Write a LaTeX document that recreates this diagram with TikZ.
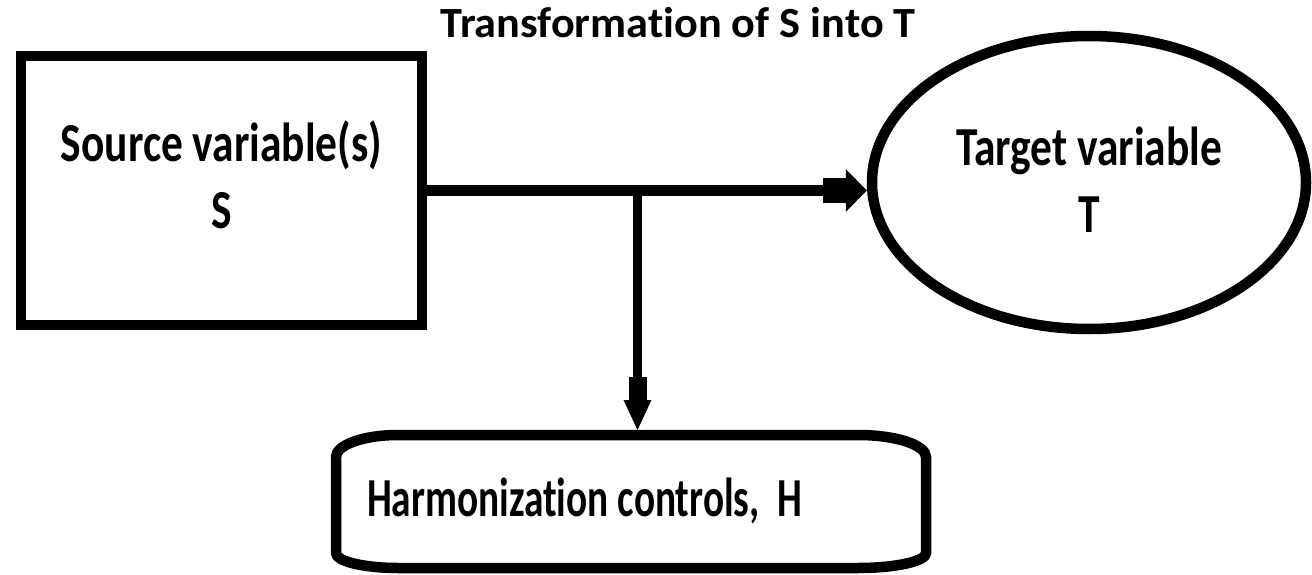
\documentclass[tikz,border=0pt]{standalone}
\usepackage{fontspec}
\setmainfont{Carlito}
\newfontfamily\bodyfont{Carlito}[FakeStretch=0.79,Ligatures=NoCommon]
\newfontfamily\harmfont{Carlito}[FakeStretch=0.715,Ligatures=NoCommon]
\newfontfamily\titlefont{Carlito}[FakeStretch=1.03,Ligatures=NoCommon]
\usetikzlibrary{arrows.meta,shapes.geometric}
\begin{document}
\begin{tikzpicture}[x=1pt,y=-1pt,
  frame/.style={draw=black,line width=10.5pt},
  lbl/.style={font=\bodyfont\bfseries\fontsize{55}{67}\selectfont,align=flush center},
  link/.style={draw=black,line width=11pt},
  stem/.style={draw=black,line width=9pt},
  bigtip/.style={-{Rectangle[length=23pt,width=25pt,sep=0pt,line width=0pt]Triangle[length=21pt,width=43pt,sep=0pt,line width=0pt]}},
  smalltip/.style={-{Rectangle[length=23pt,width=18pt,sep=0pt,line width=0pt]Triangle[length=30pt,width=28pt,sep=0pt,line width=0pt]}}]
\useasboundingbox (0,0) rectangle (1312,575);

% title
\node[font=\titlefont\bfseries\fontsize{43}{50}\selectfont,anchor=base] (title) at (678,38) {Transformation of S into T};

% source box
\node[frame,lbl,rectangle,inner sep=0pt,minimum width=401pt,minimum height=269pt] (src) at (221.5,190.5)
  {Source variable(s)\\S\rule[-31pt]{0pt}{0pt}};

% target ellipse
\node[frame,lbl,ellipse,inner sep=0pt,minimum width=434pt,minimum height=293pt] (tgt) at (1089,182.5)
  {Target variable\\T\rule[-5pt]{0pt}{0pt}};

% harmonization box (outline drawn below)
\node[lbl,font=\harmfont\bfseries\fontsize{55}{67}\selectfont,rectangle,text width=528pt,
      inner xsep=31pt,inner ysep=0pt,minimum height=133pt,align=flush left,outer sep=0pt]
  (harm) at (631,501.5) {Harmonization controls,\ \ H\rule[-8pt]{0pt}{0pt}};
\draw[frame]
  ([xshift=62pt]harm.north west) -- ([xshift=-68pt]harm.north east)
  arc[start angle=90,end angle=0,x radius=68pt,y radius=22pt]
  -- ([yshift=15pt]harm.south east)
  arc[start angle=0,end angle=-90,x radius=68pt,y radius=15pt]
  -- ([xshift=62pt]harm.south west)
  arc[start angle=270,end angle=180,x radius=62pt,y radius=15pt]
  -- ([yshift=-22pt]harm.north west)
  arc[start angle=180,end angle=90,x radius=62pt,y radius=22pt]
  -- cycle;

% connectors
\coordinate (j) at (637.5,190.5);
\draw[link,bigtip] (src.east |- j) -- (j -| tgt.west);
\draw[stem,smalltip] (j) -- ([yshift=5pt]j |- harm.north);
\end{tikzpicture}
\end{document}
